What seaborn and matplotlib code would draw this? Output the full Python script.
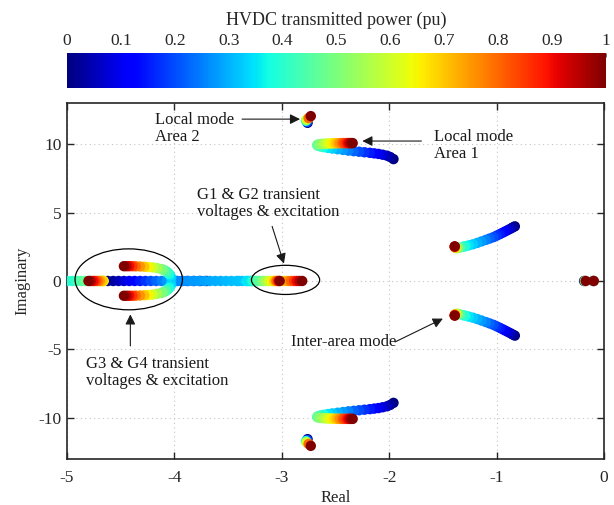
import numpy as np
import pandas as pd
import matplotlib
matplotlib.use("Agg")
import matplotlib.pyplot as plt
import seaborn as sns
from matplotlib.patches import Ellipse

sns.set_style("ticks")
plt.rcParams['font.family'] = ['Liberation Serif', 'DejaVu Serif']
plt.rcParams['axes.unicode_minus'] = False

JET = matplotlib.colormaps['jet']

# ---- eigenvalue trajectories vs HVDC power (pu) ----
# local mode area 1 (upper branch, lower one is the conjugate)
LA1_P = [0.000, 0.025, 0.050, 0.075, 0.100, 0.125, 0.150, 0.175, 0.200, 0.225,
         0.250, 0.275, 0.300, 0.325, 0.350, 0.375, 0.400, 0.425, 0.450, 0.475,
         0.500, 0.525, 0.550, 0.575, 0.600, 0.625, 0.650, 0.675, 0.700, 0.725,
         0.750, 0.775, 0.800, 0.825, 0.850, 0.875, 0.900, 0.925, 0.950, 0.975, 1.000]
LA1_X = [-1.96, -1.99, -2.02, -2.06, -2.10, -2.14, -2.18, -2.23, -2.28, -2.33,
         -2.38, -2.43, -2.48, -2.53, -2.57, -2.61, -2.64, -2.66, -2.67, -2.665,
         -2.65, -2.63, -2.61, -2.59, -2.57, -2.55, -2.53, -2.51, -2.49, -2.47,
         -2.46, -2.44, -2.43, -2.42, -2.40, -2.39, -2.38, -2.37, -2.36, -2.35, -2.34]
LA1_Y = [8.90, 9.05, 9.15, 9.22, 9.28, 9.32, 9.36, 9.40, 9.44, 9.48,
         9.52, 9.57, 9.62, 9.67, 9.72, 9.77, 9.82, 9.87, 9.92, 9.96,
         9.99, 10.01, 10.02, 10.03, 10.04, 10.05, 10.05, 10.06, 10.06, 10.06,
         10.07, 10.07, 10.07, 10.07, 10.07, 10.07, 10.07, 10.07, 10.07, 10.07, 10.07]

# local mode area 2
LA2_P = [0.0, 0.2, 0.4, 0.6, 0.8, 1.0]
LA2_X = [-2.760, -2.765, -2.775, -2.770, -2.750, -2.730]
LA2_Y = [11.55, 11.62, 11.70, 11.78, 11.90, 12.04]

# inter-area mode
IA_P = [0.000, 0.025, 0.050, 0.075, 0.100, 0.125, 0.150, 0.175, 0.200, 0.225,
        0.250, 0.275, 0.300, 0.325, 0.350, 0.375, 0.400,
        0.45, 0.50, 0.55, 0.60, 0.70, 0.80, 0.90, 1.00]
IA_X = [-0.83, -0.85, -0.87, -0.895, -0.92, -0.945, -0.97, -1.00, -1.03, -1.065,
        -1.10, -1.14, -1.18, -1.22, -1.26, -1.29, -1.31,
        -1.34, -1.36, -1.37, -1.38, -1.385, -1.39, -1.39, -1.39]
IA_Y = [3.99, 3.91, 3.82, 3.72, 3.62, 3.52, 3.42, 3.31, 3.20, 3.10,
        3.00, 2.89, 2.78, 2.68, 2.60, 2.54, 2.50,
        2.44, 2.41, 2.40, 2.41, 2.44, 2.48, 2.51, 2.53]

# G3 & G4 complex pair (upper arm) after the split from the real axis
FORK_P = [0.325, 0.35, 0.375, 0.40, 0.425, 0.45, 0.475, 0.50, 0.55,
          0.60, 0.65, 0.70, 0.75, 0.80, 0.85, 0.90, 0.95, 1.00]
FORK_X = [-4.03, -4.04, -4.05, -4.06, -4.075, -4.09, -4.105, -4.12, -4.16,
          -4.20, -4.24, -4.28, -4.32, -4.36, -4.39, -4.42, -4.445, -4.47]
FORK_Y = [0.25, 0.40, 0.52, 0.62, 0.70, 0.77, 0.82, 0.87, 0.94,
          0.99, 1.02, 1.04, 1.06, 1.07, 1.08, 1.08, 1.08, 1.08]

# real eigenvalues
R1_P = [0.30, 0.325, 0.35, 0.375, 0.40, 0.425, 0.45, 0.475, 0.50, 0.525, 0.55, 0.575,
        0.60, 0.625, 0.65, 0.675, 0.70, 0.75, 0.80, 0.85, 0.90, 0.95, 1.00]
R1_X = [-5.15, -5.10, -5.05, -5.00, -4.95, -4.91, -4.87, -4.83, -4.79, -4.75, -4.72, -4.69,
        -4.67, -4.66, -4.66, -4.665, -4.675, -4.695, -4.715, -4.735, -4.755, -4.78, -4.80]
R2_P = [0.0, 0.025, 0.05, 0.075, 0.1, 0.125, 0.15, 0.175, 0.2, 0.225, 0.25, 0.275, 0.3]
R2_X = [-4.62, -4.57, -4.52, -4.47, -4.42, -4.37, -4.32, -4.27, -4.22, -4.17, -4.12, -4.07, -4.03]
R3_P = [0.0, 0.05, 0.1, 0.15, 0.2, 0.25, 0.3]
R3_X = [-3.70, -3.76, -3.82, -3.88, -3.93, -3.98, -4.03]
R4_P = [0.26, 0.265, 0.27, 0.275, 0.28, 0.285, 0.29, 0.295, 0.30, 0.305, 0.31, 0.315, 0.32, 0.325,
        0.33, 0.34, 0.36, 0.38, 0.40, 0.43, 0.46, 0.50, 0.55, 0.60, 0.65, 0.70, 0.80, 0.90, 1.00]
R4_X = [-3.97, -3.92, -3.87, -3.82, -3.77, -3.72, -3.67, -3.62, -3.57, -3.52, -3.47, -3.42, -3.37, -3.32,
        -3.30, -3.29, -3.28, -3.27, -3.26, -3.24, -3.21, -3.18, -3.15, -3.12, -3.09, -3.07, -3.05, -3.03, -3.02]
R5_P = [0.30, 0.35, 0.40, 0.45, 0.50, 0.55, 0.60, 0.65, 0.70, 0.75, 0.80, 0.85, 0.90, 0.95, 1.00]
R5_X = [-3.40, -3.33, -3.27, -3.22, -3.17, -3.12, -3.07, -3.02, -2.98, -2.945, -2.915, -2.885, -2.86, -2.835, -2.81]
NA_P = [0.0, 0.5, 1.0]
NA_X = [-0.185, -0.178, -0.170]
NB_P = [0.0, 0.5, 1.0]
NB_X = [-0.100, -0.097, -0.095]

CBAR_TICKS = [0, 0.1, 0.2, 0.3, 0.4, 0.5, 0.6, 0.7, 0.8, 0.9, 1]
CBAR_LABELS = ['0', '0.1', '0.2', '0.3', '0.4', '0.5', '0.6', '0.7', '0.8', '0.9', '1']


def branch(p, x, y=None, conj=False):
    y = [0.0] * len(p) if y is None else y
    d = pd.DataFrame({'P': p, 'Real': x, 'Imag': y})
    if conj:
        c = d.copy()
        c['Imag'] = -c['Imag']
        d = pd.concat([d, c])
    return d


frames = [
    branch(LA1_P, LA1_X, LA1_Y, conj=True),
    branch(LA2_P, LA2_X, LA2_Y, conj=True),
    branch(IA_P, IA_X, IA_Y, conj=True),
    branch(FORK_P, FORK_X, FORK_Y, conj=True),
    branch(R1_P, R1_X), branch(R2_P, R2_X), branch(R3_P, R3_X),
    branch(R4_P, R4_X), branch(R5_P, R5_X),
    branch(NA_P, NA_X), branch(NB_P, NB_X),
]
# higher power drawn on top
df = pd.concat(frames, ignore_index=True).sort_values('P', kind='stable')

fig = plt.figure(figsize=(6.14, 5.05), dpi=100)
ax = fig.add_axes([0.1091, 0.0911, 0.8746, 0.705])
cax = fig.add_axes([0.1091, 0.8257, 0.878, 0.0693])

sns.scatterplot(data=df, x='Real', y='Imag', hue='P', palette=JET, hue_norm=(0, 1),
                s=56, linewidth=0, edgecolor='none', legend=False, ax=ax, zorder=3)

ax.set_xlim(-5, 0)
ax.set_ylim(-13, 13)
ax.set_xticks([-5, -4, -3, -2, -1, 0])
ax.set_yticks([-10, -5, 0, 5, 10])
ax.set_axisbelow(True)
ax.grid(True, linestyle=(0, (1, 3)), color='#c4c4c4', lw=0.8)
for sp in ax.spines.values():
    sp.set_color('#262626')
    sp.set_linewidth(1.2)
ax.tick_params(direction='in', top=True, right=True, length=5, width=1,
               labelsize=12.5, color='#262626', labelcolor='#262626')
ax.tick_params(axis='x', pad=8)
ax.tick_params(axis='y', pad=4)
ax.set_xlabel('Real', fontsize=12, labelpad=3, color='#262626')
ax.set_ylabel('Imaginary', fontsize=12, labelpad=6, color='#262626')

# annotations
ax.add_patch(Ellipse((-4.425, 0.12), 1.0, 4.45, fill=False, ec='k', lw=0.9, zorder=4))
ax.add_patch(Ellipse((-2.965, 0.08), 0.635, 2.13, fill=False, ec='k', lw=0.9, zorder=4))

arrow = dict(arrowstyle='-|>,head_length=0.6,head_width=0.3', mutation_scale=10,
             color='#1a1a1a', lw=0.8, shrinkA=0, shrinkB=0)
ax.annotate('', xy=(-2.83, 11.82), xytext=(-3.37, 11.82), arrowprops=arrow, zorder=5)
ax.annotate('', xy=(-2.25, 10.22), xytext=(-1.70, 10.22), arrowprops=arrow, zorder=5)
ax.annotate('', xy=(-2.98, 1.27), xytext=(-3.09, 3.99), arrowprops=arrow, zorder=5)
ax.annotate('', xy=(-4.41, -2.44), xytext=(-4.41, -4.74), arrowprops=arrow, zorder=5)
ax.annotate('', xy=(-1.50, -2.75), xytext=(-1.945, -4.45), arrowprops=arrow, zorder=5)

txt = dict(fontsize=12, ha='left', va='center', linespacing=1.1, color='#1a1a1a', zorder=5)
ax.text(-4.18, 11.12, 'Local mode\nArea 2', **txt)
ax.text(-1.58, 9.89, 'Local mode\nArea 1', **txt)
ax.text(-3.79, 5.67, 'G1 & G2 transient\nvoltages & excitation', **txt)
ax.text(-4.82, -6.69, 'G3 & G4 transient\nvoltages & excitation', **txt)
ax.text(-2.91, -4.47, 'Inter-area mode', **txt)

# colorbar on top
sm = plt.cm.ScalarMappable(cmap=JET, norm=plt.Normalize(0, 1))
cb = fig.colorbar(sm, cax=cax, orientation='horizontal')
cb.outline.set_visible(False)
cax.xaxis.set_ticks_position('top')
cax.xaxis.set_label_position('top')
cb.set_ticks(CBAR_TICKS)
cb.set_ticklabels(CBAR_LABELS)
cax.tick_params(direction='in', length=3, width=0.6, color='#555555',
                labelsize=12.5, pad=3, labelcolor='#262626')
cb.set_label('HVDC transmitted power (pu)', fontsize=13, labelpad=6, color='#262626')

fig.savefig('out.png', dpi=100)
